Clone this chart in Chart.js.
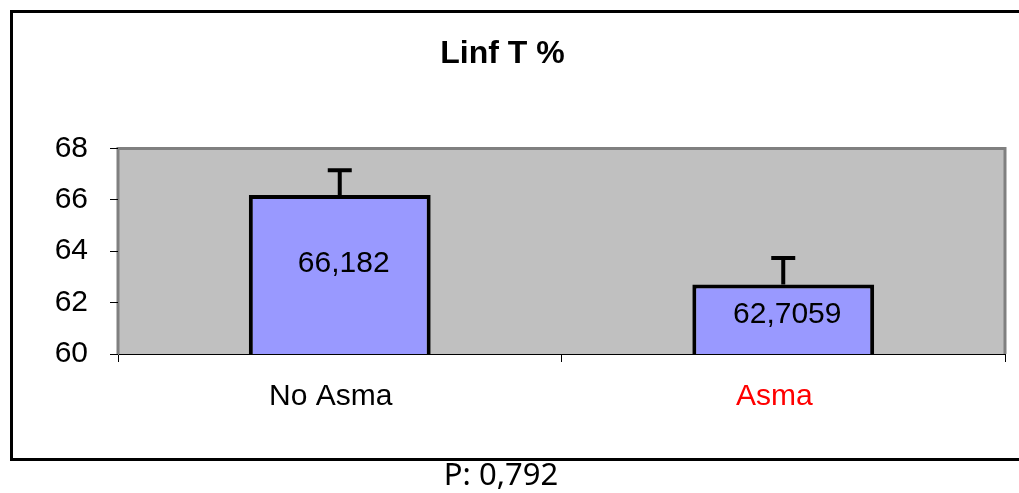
<!DOCTYPE html>
<html>
<head>
<meta charset="utf-8">
<script src="https://cdn.jsdelivr.net/npm/chart.js@4.4.1/dist/chart.umd.min.js"></script>
<style>
  body { margin: 0; background: #fff; overflow: hidden; }
  #wrap { position: relative; width: 1019px; height: 493px; overflow: hidden; }
  #pval { position: absolute; left: 0; width: 1002px; top: 452px; text-align: center;
          font-family: "Noto Sans", sans-serif; font-size: 31px; color: #000; }
  canvas { position: absolute; left: 0; top: 0; }
</style>
</head>
<body>
<div id="wrap">
  <canvas id="linfChart" width="1019" height="493"></canvas>
  <div id="pval">P: 0,792</div>
</div>
<script>
const categories = ['No Asma', 'Asma'];
const means = [66.182, 62.7059];
const errors = [0.97, 1.03];
const labelColors = ['#000000', '#ff0000'];
const yTicks = [60, 62, 64, 66, 68];

const fmt = v => String(v).replace('.', ',');

// outer frame (open on the right) and grey plot area, drawn before the bars
const plotBackground = {
    id: 'plotBackground',
    beforeDraw(chart) {
        const { ctx, chartArea: a } = chart;
        ctx.save();
        ctx.strokeStyle = '#000';
        ctx.lineWidth = 3;
        ctx.beginPath();
        ctx.moveTo(chart.width + 5, 11.5);
        ctx.lineTo(11.5, 11.5);
        ctx.lineTo(11.5, 459.5);
        ctx.lineTo(chart.width + 5, 459.5);
        ctx.stroke();

        ctx.fillStyle = '#c0c0c0';
        ctx.fillRect(a.left, a.top, a.right - a.left, a.bottom - a.top);
        ctx.strokeStyle = '#808080';
        ctx.beginPath();
        ctx.moveTo(a.left, a.bottom);
        ctx.lineTo(a.left, a.top);
        ctx.lineTo(a.right, a.top);
        ctx.lineTo(a.right, a.bottom);
        ctx.stroke();
        ctx.restore();
    }
};

// upward error bars and the value text inside each bar
const barExtras = {
    id: 'barExtras',
    afterDatasetsDraw(chart) {
        const { ctx } = chart;
        const y = chart.scales.y;
        const meta = chart.getDatasetMeta(0);
        const base = y.getPixelForValue(y.min);
        ctx.save();
        meta.data.forEach((bar, i) => {
            const top = y.getPixelForValue(means[i]);
            const errTop = y.getPixelForValue(means[i] + errors[i]);
            ctx.strokeStyle = '#000';
            ctx.lineWidth = 4;
            ctx.beginPath();
            ctx.moveTo(bar.x, top);
            ctx.lineTo(bar.x, errTop);
            ctx.moveTo(bar.x - 12, errTop);
            ctx.lineTo(bar.x + 12, errTop);
            ctx.stroke();

            ctx.fillStyle = '#000';
            ctx.font = '30px "Liberation Sans", Arial, sans-serif';
            ctx.textAlign = 'center';
            ctx.textBaseline = 'middle';
            ctx.fillText(fmt(means[i]), bar.x + 4, top + (base - top) * 0.43);
        });
        ctx.restore();
    }
};

const ctx = document.getElementById('linfChart').getContext('2d');
const linfChart = new Chart(ctx, {
    type: 'bar',
    data: {
        labels: categories,
        datasets: [{
            data: means,
            backgroundColor: '#9999ff',
            borderColor: '#000000',
            borderWidth: 4,
            borderSkipped: false,
            barPercentage: 0.41,
            categoryPercentage: 1
        }]
    },
    options: {
        responsive: false,
        animation: false,
        layout: { padding: { left: 0, right: 14, top: 0, bottom: 0 } },
        plugins: {
            legend: { display: false },
            tooltip: { enabled: false },
            title: {
                display: true,
                text: 'Linf T %',
                color: '#000',
                font: { family: '"Liberation Sans", Arial, sans-serif', size: 32, weight: 'bold' },
                padding: { top: 35, bottom: 75 }
            }
        },
        scales: {
            x: {
                afterFit: s => { s.height = 139; },
                grid: { offset: true, drawOnChartArea: false, drawTicks: true, tickLength: 8, color: '#000' },
                border: { color: '#000', width: 1 },
                ticks: {
                    padding: 17,
                    labelOffset: -9,
                    color: c => labelColors[c.index],
                    font: { family: '"Liberation Sans", Arial, sans-serif', size: 30 }
                }
            },
            y: {
                min: 60,
                max: 68,
                afterFit: s => { s.width = 118; },
                afterBuildTicks: s => { s.ticks = yTicks.map(v => ({ value: v })); },
                grid: { drawOnChartArea: false, drawTicks: true, tickLength: 8, color: '#000' },
                border: { color: '#808080', width: 1 },
                ticks: {
                    padding: 22,
                    color: '#000',
                    font: { family: '"Liberation Sans", Arial, sans-serif', size: 30 }
                }
            }
        }
    },
    plugins: [plotBackground, barExtras]
});
</script>
</body>
</html>
